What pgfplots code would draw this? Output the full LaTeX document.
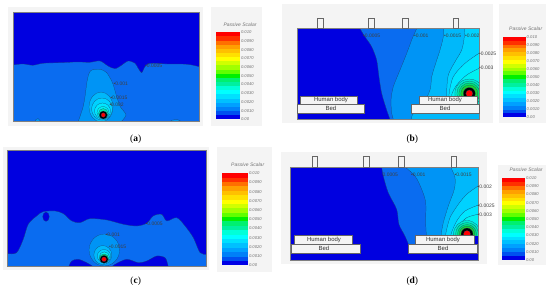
\documentclass[border=0pt]{standalone}
\usepackage{fontspec}
\setmainfont{Liberation Sans}
\newfontfamily\capfont{Liberation Serif}
\usepackage{pgfplots}
\pgfplotsset{compat=1.18}
\definecolor{pbg}{HTML}{F4F4F4}
\definecolor{cline}{HTML}{1A4070}
\definecolor{c0}{HTML}{0000E0}
\definecolor{c1}{HTML}{0A6CF0}
\definecolor{c2}{HTML}{0094F5}
\definecolor{c3}{HTML}{00B8FA}
\definecolor{c4}{HTML}{00D2FF}
\definecolor{c5}{HTML}{00E6FF}
\definecolor{c6}{HTML}{00F0F0}
\definecolor{c7}{HTML}{00E8D0}
\definecolor{c8}{HTML}{00E6A8}
\definecolor{c9}{HTML}{00E070}
\definecolor{c10}{HTML}{20D030}
\definecolor{cb0}{HTML}{0000E6}
\definecolor{cb1}{HTML}{0050F0}
\definecolor{cb2}{HTML}{0080F8}
\definecolor{cb3}{HTML}{00A0FF}
\definecolor{cb4}{HTML}{00C0FF}
\definecolor{cb5}{HTML}{00E0FF}
\definecolor{cb6}{HTML}{00FFFF}
\definecolor{cb7}{HTML}{00FFD8}
\definecolor{cb8}{HTML}{00F0A0}
\definecolor{cb9}{HTML}{00F070}
\definecolor{cb10}{HTML}{00F000}
\definecolor{cb11}{HTML}{60FF00}
\definecolor{cb12}{HTML}{A0FF00}
\definecolor{cb13}{HTML}{D0FF00}
\definecolor{cb14}{HTML}{FFFF00}
\definecolor{cb15}{HTML}{FFE000}
\definecolor{cb16}{HTML}{FFC000}
\definecolor{cb17}{HTML}{FFA000}
\definecolor{cb18}{HTML}{FF7000}
\definecolor{cb19}{HTML}{FF3000}
\definecolor{cb20}{HTML}{FF0000}
\newcommand\poly[2]{\addplot[fill=#1,draw=cline,line width=.22pt,smooth,tension=.5] coordinates {#2} -- cycle;}
% colour, smooth boundary, straight tail of the closed region: x1 y1 x2 y2
\newcommand\polyt[6]{\addplot[fill=#1,draw=cline,line width=.22pt,smooth,tension=.5] coordinates {#2} -- (axis cs:#3,#4) -- (axis cs:#5,#6) -- cycle;}
\newcommand\rect[5]{\addplot[fill=#1,draw=none] coordinates {(#2,#3)(#4,#3)(#4,#5)(#2,#5)} -- cycle;}
\newcommand\obox[5]{\addplot[fill=#1,draw=black!60,line width=.35pt] coordinates {(#2,#3)(#4,#3)(#4,#5)(#2,#5)} -- cycle;}
\newcommand\frameb[4]{\addplot[draw=black!50,line width=.35pt] coordinates {(#1,#2)(#3,#2)(#3,#4)(#1,#4)} -- cycle;}
% centre x, centre y, rx, ry, colour
\newcommand\halo[5]{\addplot[only marks,mark=*,mark size=#3,mark options={yscale=#4/#3,fill=#5,draw=cline,line width=.18pt}] coordinates {(#1,#2)};}
\newcommand\lab[3]{\node[anchor=west,inner sep=0pt,text=black!75,font=\fontsize{5}{6}\selectfont] at (axis cs:#1,#2) {#3};}
\newcommand\boxt[3]{\node[inner sep=0pt,text=black!80,font=\fontsize{6}{7}\selectfont] at (axis cs:#1,#2) {#3};}
\newcommand\capt[3]{\node[inner sep=0pt,font=\capfont\fontsize{9.5}{11}\selectfont] at (axis cs:#1,#2) {(\textbf{#3})};}
\newcommand\cl[5]{\node[anchor=west,inner sep=0pt,text=black!55,font=\itshape\fontsize{4.2}{5}\selectfont] at (axis cs:#1+0.8,{#2-(#2-#4)*#3/10}) {#5};}
% x0 x1 ybottom ytop
\newcommand\cbar[4]{%
 \pgfplotsinvokeforeach{0,...,20}{%
  \pgfmathsetmacro\ya{#3-(#3-#4)*##1/21}%
  \pgfmathsetmacro\yb{#3-(#3-#4)*(##1+1)/21}%
  \addplot[fill=cb##1,draw=none] coordinates {(#1,\ya)(#2,\ya)(#2,\yb)(#1,\yb)} -- cycle;
 }%
 \cl{#2}{#3}{0}{#4}{0.00}\cl{#2}{#3}{1}{#4}{0.0010}\cl{#2}{#3}{2}{#4}{0.0020}%
 \cl{#2}{#3}{3}{#4}{0.0030}\cl{#2}{#3}{4}{#4}{0.0040}\cl{#2}{#3}{5}{#4}{0.0050}%
 \cl{#2}{#3}{6}{#4}{0.0060}\cl{#2}{#3}{7}{#4}{0.0070}\cl{#2}{#3}{8}{#4}{0.0080}%
 \cl{#2}{#3}{9}{#4}{0.0090}\cl{#2}{#3}{10}{#4}{0.010}%
}
\newcommand\cbt[2]{\node[inner sep=0pt,text=black!55,font=\itshape\fontsize{5}{6}\selectfont] at (axis cs:#1,#2) {Passive Scalar};}
\begin{document}
\begin{tikzpicture}
\begin{axis}[x=1bp,y=1bp,scale only axis,xmin=0,xmax=550,ymin=0,ymax=292,y dir=reverse,hide axis,clip=true,clip marker paths=true]
\rect{white}{0}{0}{550}{292}
% ---------- (a)
\rect{pbg}{8}{7}{203}{126}
\rect{pbg}{211}{7}{262.3}{126}
\rect{c0}{12.7}{11.7}{199.3}{120.7}
\polyt{c1}{(10,65.5)(12.7,65)(23,64)(33,65.3)(43,63.3)(60,62.7)(77,62)(90,62.3)(100,61)(108,66)(115,68.7)(122,65)(128,61)(135,63.3)(138,68)(141.7,72.7)(145,66.7)(150,63.3)(167,64)(187,64.3)(199.3,66.7)(201.5,67)}{201.5}{124}{10}{124}
\poly{c2}{(77.7,123)(82.7,108.3)(85,96.7)(87.3,80)(90.7,70.7)(100,69.3)(106.7,72.7)(112.7,83.3)(116.7,96.7)(120.7,107.3)(126,115)(120,123)}
\poly{c2}{(34,123)(36,119.5)(38,118.5)(40,120.5)(41,123)}
\poly{c2}{(168,123)(172,120.2)(178,119.8)(183,123)}
\halo{101}{107}{12}{15}{c3}
\halo{102}{109}{10.5}{11}{c4}
\halo{102.5}{111}{8}{8}{c5}
\halo{103}{112.5}{6}{6}{c6}
\halo{103.3}{113.5}{4.8}{5}{c8}
\halo{103.3}{115}{4}{4}{black}
\halo{103.3}{115}{2.2}{2.2}{red}
\rect{pbg}{8}{120.7}{203}{126}
\rect{pbg}{8}{7}{12.7}{126}
\rect{pbg}{199.3}{7}{203}{126}
\rect{white}{8}{126}{203}{133}
\frameb{12.7}{11.7}{199.3}{120.7}
\lab{145}{66}{•0.0005}
\lab{113.5}{84}{•0.001}
\lab{110.3}{98}{•0.0015}
\lab{109.3}{105}{•0.002}
\capt{135.7}{139}{a}
\cbar{216}{240}{119.3}{32.3}
\cbt{240}{24.3}
% ---------- (b)
\rect{pbg}{281.7}{4}{493.3}{122.7}
\rect{pbg}{499}{4}{545.7}{123.3}
\rect{c0}{296.7}{28.3}{479}{119.3}
\polyt{c1}{(360,23.3)(360,28.3)(365,36.7)(371.7,46.7)(376.7,60)(379,76.7)(381.7,93.3)(386.7,110)(390,119.3)(390.7,121.7)}{482}{121.7}{482}{23.3}
\polyt{c2}{(416.7,23.3)(416.7,28.3)(412.3,38.3)(406.7,53.3)(400,70)(393.3,86.7)(391,100)(391.7,113.3)(393.3,119.3)(393.3,121.7)}{482}{121.7}{482}{23.3}
\polyt{c3}{(444,23.3)(443.3,36.7)(440,50)(435.7,63.3)(431.7,76.7)(430,90)(421.7,106.7)(412.3,115)(412.3,121.7)}{482}{121.7}{482}{23.3}
\polyt{c4}{(465,23.3)(464.3,36.7)(461.7,50)(455,61.7)(448.3,75)(446.7,93.3)(448.3,106.7)(455,110)}{482}{110}{482}{23.3}
\polyt{c5}{(482,52)(479,53.3)(465,63.3)(453.3,76.7)(449,95)(451.7,103.3)}{482}{103.3}{482}{52}
\polyt{c6}{(482,67)(479,68.3)(466.7,75)(456.7,85)(451.7,95)(455,101.7)}{482}{101.7}{482}{67}
\halo{469.3}{93.5}{14.5}{14.5}{c7}
\halo{469.3}{93.5}{12.5}{12.5}{c8}
\halo{469.3}{93.5}{10.5}{10.5}{c9}
\halo{469.3}{93.5}{8.5}{8.5}{c10}
\halo{469.3}{93.5}{6}{6}{black}
\halo{469.3}{93.5}{3.5}{3.5}{red}
\rect{pbg}{281.7}{4}{493.3}{28.3}
\rect{pbg}{281.7}{119.3}{493.3}{122.7}
\rect{pbg}{479}{4}{493.3}{122.7}
\frameb{296.7}{28.3}{479}{119.3}
\obox{pbg}{317.3}{17.7}{322.7}{28.3}
\obox{pbg}{368.3}{17.7}{373.7}{28.3}
\obox{pbg}{402.3}{17.7}{407.7}{28.3}
\obox{pbg}{453}{17.7}{458.3}{28.3}
\obox{pbg}{300}{95.7}{357.3}{104}
\obox{pbg}{296.7}{104}{364.3}{113.3}
\obox{pbg}{418.7}{95.7}{477}{104}
\obox{pbg}{411.3}{104}{479}{113.3}
\boxt{331}{99.5}{Human body}
\boxt{331}{108.3}{Bed}
\boxt{445}{99.5}{Human body}
\boxt{445}{108.3}{Bed}
\lab{363}{36}{•0.0005}
\lab{414}{36}{•0.001}
\lab{444}{36}{•0.0015}
\lab{465}{36}{•0.002}
\lab{479}{53.5}{•0.0025}
\lab{479}{68}{•0.003}
\capt{412.3}{139}{b}
\cbar{503.3}{525.7}{117.3}{37}
\cbt{525.7}{29}
% ---------- (c)
\rect{pbg}{3.3}{147}{209.3}{270}
\rect{pbg}{217}{147}{271.7}{272}
\rect{c0}{7.3}{150}{206.3}{265.7}
\polyt{c1}{(5,253.6)(7.3,253.7)(16.7,252.7)(23.3,239.3)(28.3,224.3)(36.7,216)(43.3,211.7)(55,211)(63.3,213.7)(71.7,221)(80,222.7)(90,218.7)(106.7,220)(123.3,224.3)(136.7,226)(146.7,223.3)(153.3,216)(161.7,214.3)(166.7,221)(176.7,217.7)(185,226)(193.3,237.7)(200,252.7)(206.3,254.3)(208,255)}{208}{268}{5}{268}
\poly{c0}{(68.3,267.7)(71.7,261)(78.3,259.3)(86.7,262.7)(95,267.7)}
\poly{c0}{(111.7,267)(115,264.3)(126.7,259.3)(138.3,262.7)(146.7,261)(156.7,256)(165,257.7)(167.7,264.3)(168.3,267.7)}
\halo{46}{216.7}{3.3}{4.7}{c0}
\halo{104.3}{250}{15.3}{16}{c2}
\halo{102.8}{255}{9}{9.5}{c3}
\halo{104}{256}{6.7}{6.5}{c4}
\halo{104.3}{257}{5.2}{5.2}{c6}
\halo{104}{258.5}{4.6}{4.6}{c9}
\halo{104}{259.3}{4}{4}{black}
\halo{104}{259.3}{2.4}{2.4}{red}
\rect{pbg}{3.3}{265.7}{209.3}{270}
\rect{pbg}{206.3}{147}{209.3}{270}
\rect{pbg}{3.3}{147}{7.3}{270}
\rect{white}{3.3}{270}{209.3}{276}
\frameb{7.3}{150}{206.3}{265.7}
\lab{145.5}{224}{•0.0005}
\lab{105.5}{234.5}{•0.001}
\lab{109}{247}{•0.0015}
\capt{135.7}{281}{c}
\cbar{222.3}{248}{265.3}{173.3}
\cbt{247.7}{164.3}
% ---------- (d)
\rect{pbg}{281}{152}{487}{264.3}
\rect{pbg}{498}{165}{545.7}{265.3}
\rect{c0}{290.3}{166.7}{477.7}{260}
\polyt{c1}{(381.7,162.7)(381.7,166.7)(383.3,176)(388.3,192.7)(396.7,209.3)(399,224.3)(405,236)(409,246)(409,252)}{480}{252}{480}{162.7}
\polyt{c2}{(405,162.7)(405,166.7)(415,176)(421.7,189.3)(425.7,202.7)(425.7,222.7)(426.7,239.3)(428.3,246)}{480}{246}{480}{162.7}
\polyt{c3}{(450.7,162.7)(450.7,166.7)(455,177.7)(454.3,189.3)(448.3,206)(443.3,222.7)(441,236)(441.7,242.7)}{480}{242.7}{480}{162.7}
\polyt{c4}{(480,185.5)(477.7,186.3)(466.7,194.3)(458.3,204.3)(450,217.7)(445.7,234.3)(446.7,241)}{480}{241}{480}{185.5}
\polyt{c5}{(480,205)(477.7,205.3)(465,211)(456.7,221)(451,234.3)(451.7,241)}{480}{241}{480}{205}
\polyt{c6}{(480,214)(477.7,214.3)(466.7,217.7)(458.3,226)(453.3,235.3)(455,241)}{480}{241}{480}{214}
\halo{467}{234}{13.5}{13.5}{c7}
\halo{467}{234}{11.5}{11.5}{c8}
\halo{467}{234}{9.5}{9.5}{c9}
\halo{467}{234}{7.8}{7.8}{c10}
\halo{467}{234}{6}{6}{black}
\halo{467}{234}{3.5}{3.5}{red}
\rect{pbg}{281}{152}{487}{166.7}
\rect{pbg}{281}{260}{487}{264.3}
\rect{pbg}{477.7}{152}{487}{264.3}
\rect{c0}{473}{235.5}{477.7}{244}
\frameb{290.3}{166.7}{477.7}{260}
\obox{pbg}{311.7}{156.3}{317.3}{166.7}
\obox{pbg}{363.3}{156.3}{369}{166.7}
\obox{pbg}{398.3}{156.3}{404}{166.7}
\obox{pbg}{450.7}{156.3}{456.3}{166.7}
\obox{pbg}{294}{235.3}{352.3}{244.3}
\obox{pbg}{290.7}{244.3}{359.7}{253.3}
\obox{pbg}{415}{235.3}{474}{244.3}
\obox{pbg}{408.3}{244.3}{476.7}{253.3}
\boxt{324}{239.5}{Human body}
\boxt{324}{248.5}{Bed}
\boxt{443}{239.5}{Human body}
\boxt{443}{248.5}{Bed}
\lab{382.5}{174.3}{0.0005}
\lab{411}{174.3}{•0.001}
\lab{454.5}{174.3}{•0.0015}
\lab{477.5}{186.3}{•0.002}
\lab{477.5}{206}{•0.0025}
\lab{477.5}{214.5}{•0.003}
\capt{412.3}{281}{d}
\cbar{502.3}{525}{260}{178}
\cbt{526}{170}
\end{axis}
\end{tikzpicture}
\end{document}
